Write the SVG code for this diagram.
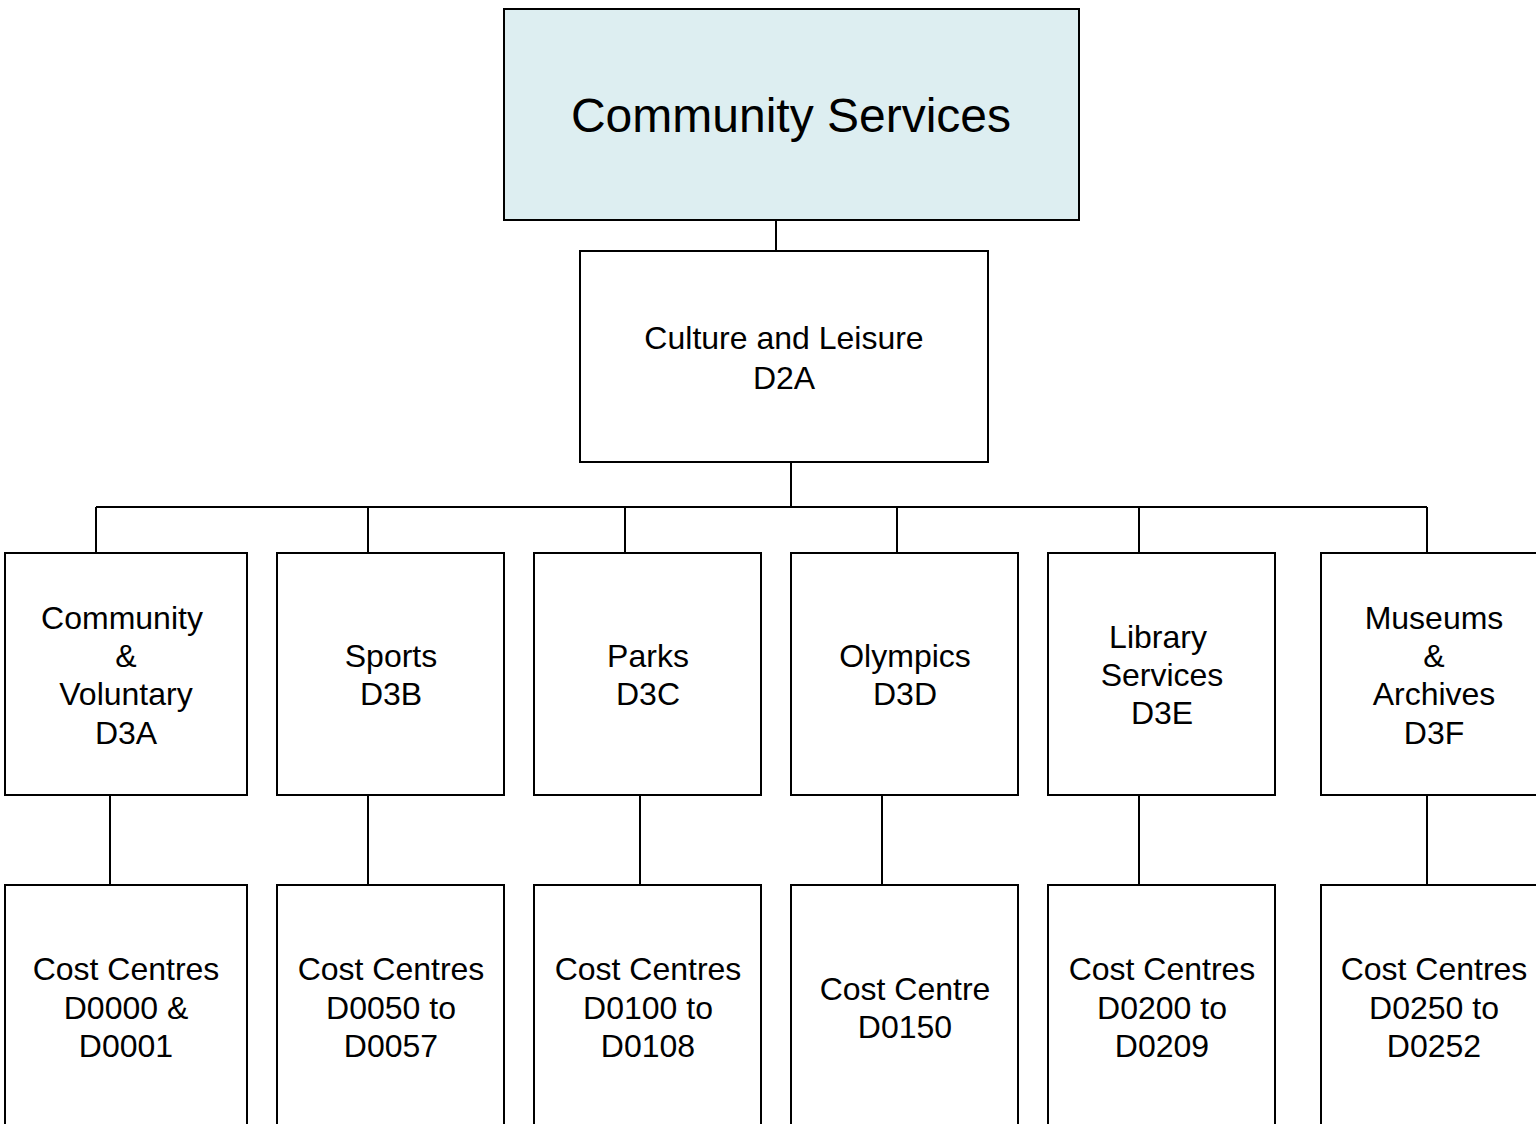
<svg xmlns="http://www.w3.org/2000/svg" width="1536" height="1124" viewBox="0 0 1536 1124">
  <style>
    .box { fill: #ffffff; stroke: #000000; stroke-width: 2; }
    .top { fill: #ddeef1; }
    .lbl { font-family: "Liberation Sans", Arial, sans-serif; font-size: 32px; fill: #000000; text-anchor: middle; }
    .big { font-size: 48px; }
    .wire { fill: none; stroke: #000000; stroke-width: 2; }
  </style>
  <rect width="1536" height="1124" fill="#ffffff"/>

  <!-- connectors -->
  <g id="connectors">
    <path class="wire" d="M776 220 V251"/>
    <path class="wire" d="M791 462 V507"/>
    <path class="wire" d="M96 507 H1427"/>
    <path class="wire" d="M96 507 V553 M368 507 V553 M625 507 V553 M897 507 V553 M1139 507 V553 M1427 507 V553"/>
    <path class="wire" d="M110 795 V885 M368 795 V885 M640 795 V885 M882 795 V885 M1139 795 V885 M1427 795 V885"/>
  </g>

  <!-- level 1 -->
  <g id="community-services">
    <rect class="box top" x="504" y="9" width="575" height="211"/>
    <text class="lbl big" x="791" y="132">Community Services</text>
  </g>

  <!-- level 2 -->
  <g id="culture-leisure">
    <rect class="box" x="580" y="251" width="408" height="211"/>
    <text class="lbl" x="784" y="349">Culture and Leisure</text>
    <text class="lbl" x="784" y="389">D2A</text>
  </g>

  <!-- level 3 divisions -->
  <g id="d3a">
    <rect class="box" x="5" y="553" width="242" height="242"/>
    <text class="lbl" x="122" y="629">Community</text>
    <text class="lbl" x="126" y="667">&amp;</text>
    <text class="lbl" x="126" y="705">Voluntary</text>
    <text class="lbl" x="126" y="744">D3A</text>
  </g>
  <g id="d3b">
    <rect class="box" x="277" y="553" width="227" height="242"/>
    <text class="lbl" x="391" y="667">Sports</text>
    <text class="lbl" x="391" y="705">D3B</text>
  </g>
  <g id="d3c">
    <rect class="box" x="534" y="553" width="227" height="242"/>
    <text class="lbl" x="648" y="667">Parks</text>
    <text class="lbl" x="648" y="705">D3C</text>
  </g>
  <g id="d3d">
    <rect class="box" x="791" y="553" width="227" height="242"/>
    <text class="lbl" x="905" y="667">Olympics</text>
    <text class="lbl" x="905" y="705">D3D</text>
  </g>
  <g id="d3e">
    <rect class="box" x="1048" y="553" width="227" height="242"/>
    <text class="lbl" x="1158" y="648">Library</text>
    <text class="lbl" x="1162" y="686">Services</text>
    <text class="lbl" x="1162" y="724">D3E</text>
  </g>
  <g id="d3f">
    <rect class="box" x="1321" y="553" width="230" height="242"/>
    <text class="lbl" x="1434" y="629">Museums</text>
    <text class="lbl" x="1434" y="667">&amp;</text>
    <text class="lbl" x="1434" y="705">Archives</text>
    <text class="lbl" x="1434" y="744">D3F</text>
  </g>

  <!-- level 4 cost centres -->
  <g id="cc-d3a">
    <rect class="box" x="5" y="885" width="242" height="260"/>
    <text class="lbl" x="126" y="980">Cost Centres</text>
    <text class="lbl" x="126" y="1019">D0000 &amp;</text>
    <text class="lbl" x="126" y="1057">D0001</text>
  </g>
  <g id="cc-d3b">
    <rect class="box" x="277" y="885" width="227" height="260"/>
    <text class="lbl" x="391" y="980">Cost Centres</text>
    <text class="lbl" x="391" y="1019">D0050 to</text>
    <text class="lbl" x="391" y="1057">D0057</text>
  </g>
  <g id="cc-d3c">
    <rect class="box" x="534" y="885" width="227" height="260"/>
    <text class="lbl" x="648" y="980">Cost Centres</text>
    <text class="lbl" x="648" y="1019">D0100 to</text>
    <text class="lbl" x="648" y="1057">D0108</text>
  </g>
  <g id="cc-d3d">
    <rect class="box" x="791" y="885" width="227" height="260"/>
    <text class="lbl" x="905" y="1000">Cost Centre</text>
    <text class="lbl" x="905" y="1038">D0150</text>
  </g>
  <g id="cc-d3e">
    <rect class="box" x="1048" y="885" width="227" height="260"/>
    <text class="lbl" x="1162" y="980">Cost Centres</text>
    <text class="lbl" x="1162" y="1019">D0200 to</text>
    <text class="lbl" x="1162" y="1057">D0209</text>
  </g>
  <g id="cc-d3f">
    <rect class="box" x="1321" y="885" width="230" height="260"/>
    <text class="lbl" x="1434" y="980">Cost Centres</text>
    <text class="lbl" x="1434" y="1019">D0250 to</text>
    <text class="lbl" x="1434" y="1057">D0252</text>
  </g>
</svg>
